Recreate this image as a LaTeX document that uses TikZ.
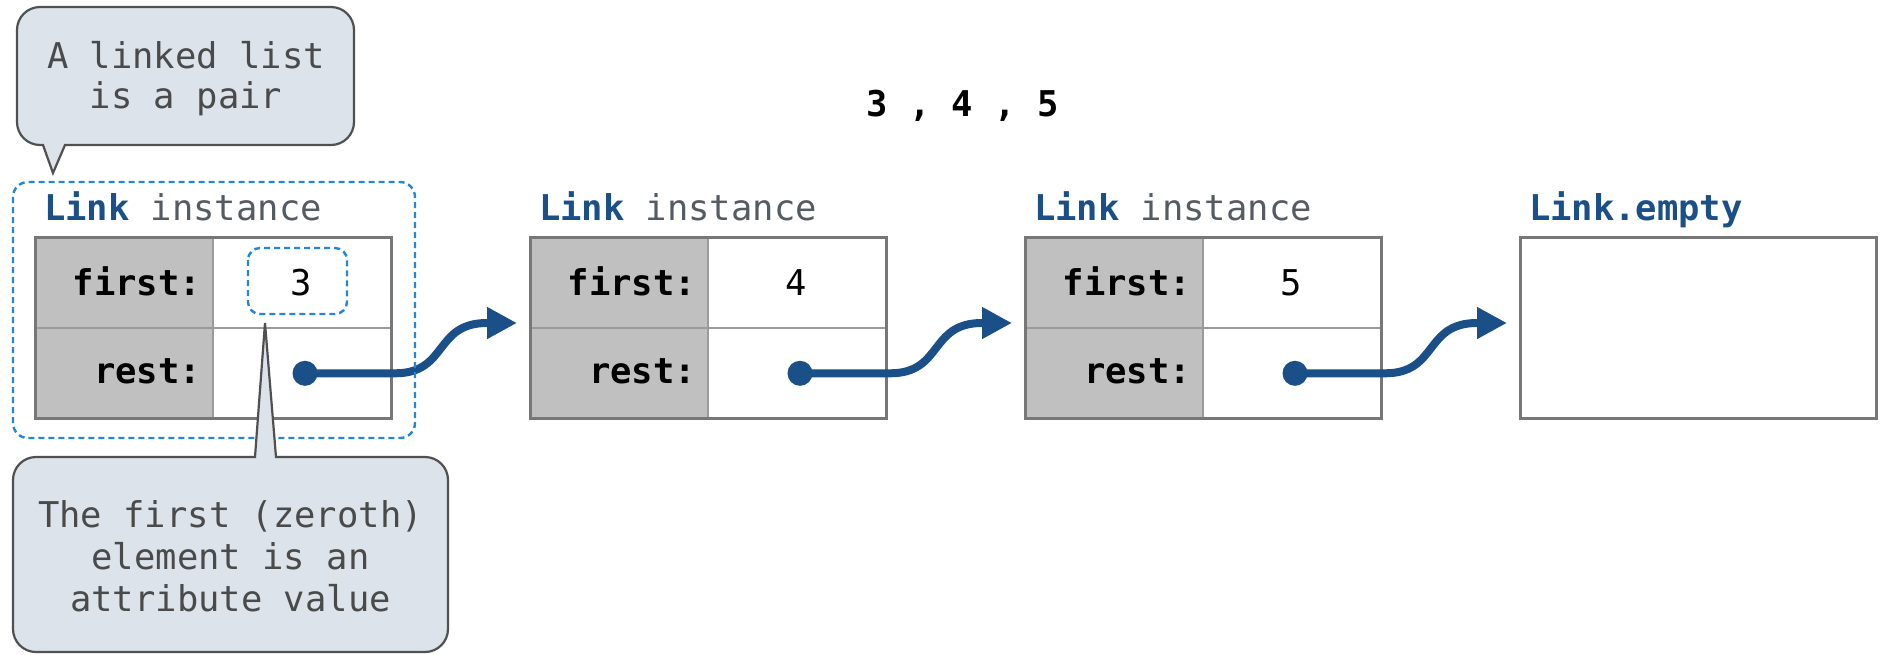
\documentclass[tikz,border=0pt]{standalone}
\usepackage{fontspec}
\setmonofont{DejaVu Sans Mono}
\usetikzlibrary{arrows.meta}

\definecolor{linkblue}{HTML}{1A4F88}
\definecolor{dashblue}{HTML}{2188D8}
\definecolor{calloutfill}{HTML}{DCE3EB}
\definecolor{calloutline}{HTML}{505050}
\definecolor{calltext}{HTML}{4A4A4A}
\definecolor{keyfill}{HTML}{C0C0C0}
\definecolor{framegray}{HTML}{777777}
\definecolor{gridline}{HTML}{9A9A9A}
\definecolor{labelgray}{HTML}{555B62}

\newcommand{\diagfont}{\ttfamily\fontsize{17.75pt}{21pt}\selectfont}

\tikzset{
  txt/.style={inner sep=0pt, outer sep=0pt},
  keycell/.style={draw=gridline, line width=1pt, fill=keyfill, anchor=north west,
    minimum width=89pt, minimum height=45.25pt, inner sep=0pt},
  valcell/.style={keycell, fill=white},
  tabframe/.style={draw=framegray, line width=1.4pt, anchor=north west,
    minimum width=178pt, minimum height=90.5pt, inner sep=0pt},
  keytext/.style={txt, anchor=base east, font=\diagfont\bfseries},
  valtext/.style={txt, anchor=base},
  headtext/.style={txt, anchor=base west, text=labelgray},
  refdot/.style={circle, fill=linkblue, minimum size=12.5pt, inner sep=0pt},
  ptr/.style={draw=linkblue, line width=4pt,
    -{Triangle[length=15pt,width=15pt]}},
  dashbox/.style={draw=dashblue, line width=1.2pt, dash pattern=on 3pt off 2pt},
  callout/.style={fill=calloutfill, draw=calloutline, line width=1.1pt},
  calltxt/.style={txt, anchor=base, text=calltext},
}

\begin{document}
\begin{tikzpicture}[x=0.5pt, y=-0.5pt, font=\diagfont]
\useasboundingbox (0,0) rectangle (1885,654);

% sequence being represented
\node[txt, anchor=base, font=\diagfont\bfseries] (seq) at (962.5,116) {3 , 4 , 5};

% the three Link instances
\foreach \i/\v [evaluate=\i as \x using 34+495*(\i-1)] in {1/3,2/4,3/5} {
  \node[keycell] (fk\i) at (\x,236) {};
  \node[valcell] (fv\i) at (\x+178,236) {};
  \node[keycell] (rk\i) at (\x,326.5) {};
  \node[valcell] (rv\i) at (\x+178,326.5) {};
  \node[tabframe] (t\i) at (\x,236) {};
  \node[keytext] (fl\i) at (\x+167,295) {first:};
  \node[keytext] (rl\i) at (\x+167,383.3) {rest:};
  \node[valtext] (val\i) at (\x+267,295) {\v};
  \node[headtext] (h\i) at (\x+10,220) {\textbf{\color{linkblue}Link} instance};
}

% the empty list
\node[tabframe] (t4) at (1519,236) {};
\node[headtext, text=linkblue, font=\diagfont\bfseries] (h4) at (1529,220) {Link.empty};

% rest pointers
\foreach \i [evaluate=\i as \x using 34+495*(\i-1)] in {1,2,3} {
  \node[refdot] (d\i) at (\x+271,373.3) {};
  \coordinate (e\i) at (\x+483,323);
  \draw[ptr] (d\i.center) -- ++(90,0)
    to[out=0, in=180, looseness=1.3] ++(92,-50.3) -- (e\i);
}

% highlight of the first instance and of its first element
\draw[dashbox, rounded corners=7.5pt] (13,182) rectangle (415,438);
\draw[dashbox, rounded corners=6pt] (248,248) rectangle (347,314);

% callout: a linked list is a pair
\draw[callout] (43,145) [rounded corners=11.5pt] -- (17,145) -- (17,7)
  -- (354,7) -- (354,145) [sharp corners] -- (65,145) -- (53,173) -- cycle;
\node[calltxt] (c1a) at (186,68) {A linked list};
\node[calltxt] (c1b) at (186,108) {is a pair};

% callout: first element is an attribute value
\draw[callout] (255,457) [rounded corners=11.5pt] -- (13,457) -- (13,652)
  -- (448,652) -- (448,457) [sharp corners] -- (276,457) -- (265,323) -- cycle;
\node[calltxt] (c2a) at (230.5,527) {The first (zeroth)};
\node[calltxt] (c2b) at (230.5,569) {element is an};
\node[calltxt] (c2c) at (230.5,611.5) {attribute value};
\end{tikzpicture}
\end{document}
